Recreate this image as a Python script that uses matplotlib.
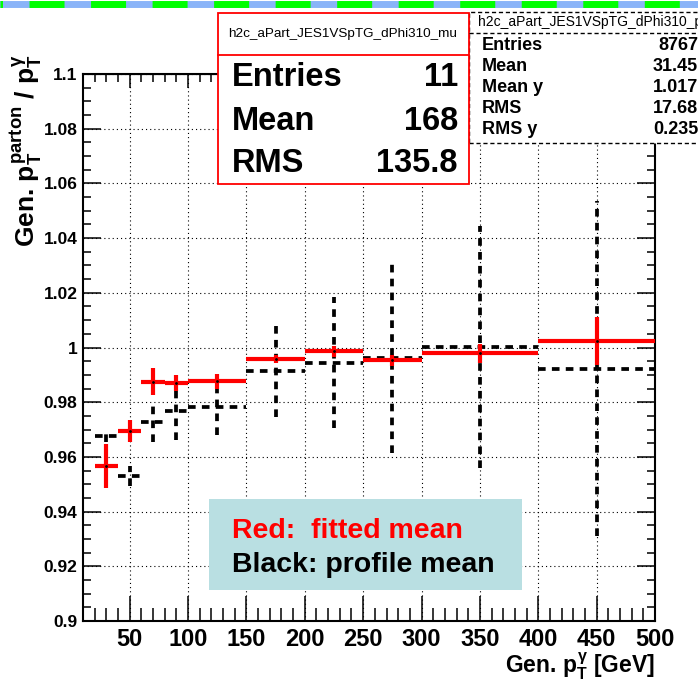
import matplotlib
matplotlib.use('Agg')
import matplotlib.pyplot as plt
from matplotlib.lines import Line2D
from matplotlib.patches import Rectangle
from matplotlib.ticker import FuncFormatter, MultipleLocator

######### Data #########
# photon pT bins (centre and half width, GeV)
pt_center = [30, 50, 70, 90, 125, 175, 225, 275, 350, 450]
pt_halfwidth = [10, 10, 10, 10, 25, 25, 25, 25, 50, 50]

# fitted mean of parton/photon pT ratio
fit_mean = [0.9567, 0.9695, 0.9875, 0.9871, 0.9877, 0.9958, 0.9986, 0.9953, 0.9979, 1.0023]
fit_err = [0.0079, 0.0039, 0.0049, 0.0030, 0.0027, 0.0015, 0.0020, 0.0020, 0.0034, 0.0088]

# profile mean of the same ratio
prof_mean = [0.9676, 0.9530, 0.9729, 0.9769, 0.9781, 0.9913, 0.9944, 0.9963, 1.0003, 0.9922]
prof_err = [0.0021, 0.0037, 0.0075, 0.0107, 0.0101, 0.0167, 0.0240, 0.0350, 0.0443, 0.0612]

stats_mu = [('Entries', '11'), ('Mean', '168'), ('RMS', '135.8')]
stats_pfx = [('Entries', '8767'), ('Mean', '31.45'), ('Mean y', '1.017'),
             ('RMS', '17.68'), ('RMS y', '0.235')]

W, H = 698, 682


def fx(px):
    return px / W


def fy(py):
    return 1 - py / H


plt.rcParams['font.family'] = ['Liberation Sans', 'DejaVu Sans']
plt.rcParams['font.weight'] = 'bold'
plt.rcParams['mathtext.fontset'] = 'custom'
plt.rcParams['mathtext.rm'] = 'Liberation Sans:bold'
plt.rcParams['mathtext.it'] = 'Liberation Sans:bold'
plt.rcParams['mathtext.bf'] = 'Liberation Sans:bold'
plt.rcParams['lines.scale_dashes'] = False

fig = plt.figure(figsize=(W / 100, H / 100), dpi=100)
ax = fig.add_axes([fx(83), fy(621), (655 - 83) / W, (621 - 74) / H])

# profile mean (black dashed)
eb = ax.errorbar(pt_center, prof_mean, xerr=pt_halfwidth, yerr=prof_err, fmt='none',
                 ecolor='black', elinewidth=2.7, capsize=0, zorder=3)
for lc in eb[2]:
    lc.set_linestyle((0, (5.5, 4.5)))

# fitted mean (red)
ax.errorbar(pt_center, fit_mean, xerr=pt_halfwidth, yerr=fit_err, fmt='none',
            ecolor='red', elinewidth=3, capsize=0, zorder=4)
ax.plot(pt_center, fit_mean, 'k.', ms=2, zorder=5)

ax.set_xlim(10, 500)
ax.set_ylim(0.9, 1.1)
ax.xaxis.set_major_locator(MultipleLocator(50))
ax.xaxis.set_minor_locator(MultipleLocator(10))
ax.yaxis.set_major_locator(MultipleLocator(0.02))
ax.yaxis.set_minor_locator(MultipleLocator(0.005))
fmt = FuncFormatter(lambda v, p: f'{v:g}')
ax.xaxis.set_major_formatter(fmt)
ax.yaxis.set_major_formatter(fmt)

ax.set_axisbelow(True)
ax.grid(True, which='major', color='black', linestyle=(0, (0.8, 2.2)), linewidth=0.8)

ax.tick_params(axis='x', which='major', direction='in', length=18, width=1.1,
               labelsize=17, pad=5, top=False)
ax.tick_params(axis='x', which='minor', direction='in', length=9.5, width=1.1, top=False)
ax.tick_params(axis='y', which='major', direction='in', length=13, width=1.1,
               labelsize=12.5, pad=4, right=True)
ax.tick_params(axis='y', which='minor', direction='in', length=6, width=1.1, right=True)
for s in ax.spines.values():
    s.set_linewidth(1.5)

sec = ax.secondary_xaxis('top')
sec.xaxis.set_major_locator(MultipleLocator(50))
sec.xaxis.set_minor_locator(MultipleLocator(10))
sec.tick_params(which='major', direction='in', length=10, width=1.1, labeltop=False)
sec.tick_params(which='minor', direction='in', length=5.5, width=1.1)

# axis titles
fig.text(fx(655), fy(673), r'Gen. $p_{T}^{\gamma}$ [GeV]', fontsize=16.5,
         ha='right', va='baseline')
fig.text(fx(35), fy(54), r'Gen. $p_{T}^{parton}$ / $p_{T}^{\gamma}$', fontsize=19,
         rotation=90, rotation_mode='anchor', ha='right', va='baseline')

# stats box of the profile histogram (partly off the canvas)
fig.add_artist(Rectangle((fx(469), fy(143)), (705 - 469) / W, (143 - 12) / H,
                         transform=fig.transFigure, fc='white', ec='black',
                         lw=1, ls=(0, (3, 2))))
fig.add_artist(Line2D([fx(469), fx(705)], [fy(33), fy(33)], color='black',
                      lw=1, ls=(0, (3, 2))))
fig.text(fx(478), fy(22), 'h2c_aPart_JES1VSpTG_dPhi310_pfx', fontsize=10,
         fontweight='normal', va='center', ha='left')
for i, (name, val) in enumerate(stats_pfx):
    yy = fy(46 + i * 20.8)
    fig.text(fx(482), yy, name, fontsize=13, va='center', ha='left')
    fig.text(fx(698), yy, val, fontsize=13, va='center', ha='right')

# stats box of the fitted-mean histogram
fig.add_artist(Rectangle((fx(218), fy(184)), (469 - 218) / W, (184 - 13) / H,
                         transform=fig.transFigure, fc='white', ec='red', lw=1.3))
fig.add_artist(Line2D([fx(218), fx(469)], [fy(55), fy(55)], color='red', lw=1.3))
fig.text(fx(343), fy(34), 'h2c_aPart_JES1VSpTG_dPhi310_mu', fontsize=9.7,
         fontweight='normal', va='center', ha='center')
for i, (name, val) in enumerate(stats_mu):
    yy = fy(78 + i * 43)
    fig.text(fx(232), yy, name, fontsize=23.5, va='center', ha='left')
    fig.text(fx(458), yy, val, fontsize=23.5, va='center', ha='right')

# legend box
fig.add_artist(Rectangle((fx(209), fy(590)), (522 - 209) / W, (590 - 499) / H,
                         transform=fig.transFigure, fc='#b9dfe2', ec='none'))
fig.text(fx(232), fy(531), 'Red:  fitted mean', color='red', fontsize=20.5,
         va='center', ha='left')
fig.text(fx(232), fy(565), 'Black: profile mean', color='black', fontsize=20.5,
         va='center', ha='left')

# striped band along the top edge
fig.add_artist(Line2D([0, 1], [fy(3.5), fy(3.5)], color='#8ab4f8', lw=5))
fig.add_artist(Line2D([0, 1], [fy(3.5), fy(3.5)], color='#00ff00', lw=5,
                      ls=(23.4, (25.2, 19.1)), solid_capstyle='butt',
                      dash_capstyle='butt'))

fig.savefig('out.png', dpi=100)
